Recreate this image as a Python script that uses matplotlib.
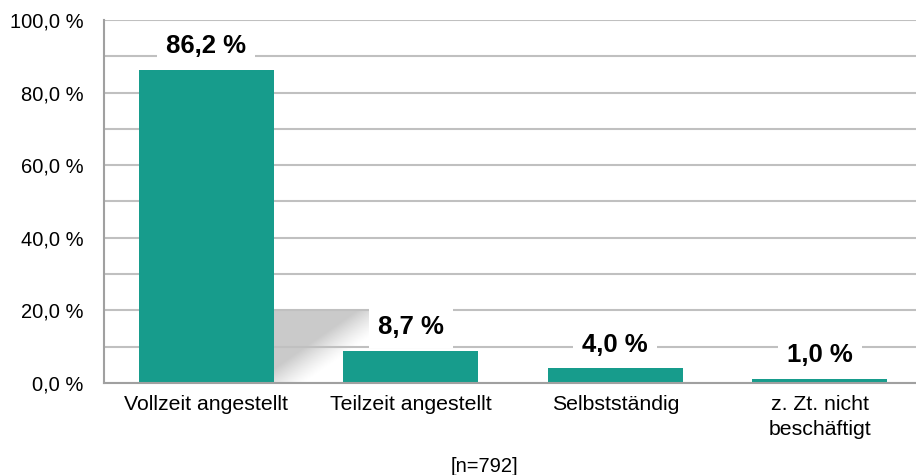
import numpy as np
import matplotlib
matplotlib.use('Agg')
import matplotlib.pyplot as plt
from matplotlib.ticker import MultipleLocator, FuncFormatter

categories = ['Vollzeit angestellt', 'Teilzeit angestellt', 'Selbstständig', 'z. Zt. nicht\nbeschäftigt']
shares = [86.2, 8.7, 4.0, 1.0]
sample_note = '[n=792]'

bar_color = '#179c8c'
grid_color = '#c0c0c0'
spine_color = '#a0a0a0'

plt.rcParams['font.family'] = ['Liberation Sans', 'DejaVu Sans']

fig = plt.figure(figsize=(9.16, 4.75), dpi=100)
ax = fig.add_axes([0.1135, 0.1937, 0.8931, 0.7642])

x = np.arange(len(categories))
ax.bar(x, shares, width=0.66, color=bar_color, zorder=2)

ax.yaxis.set_major_locator(MultipleLocator(20))
ax.yaxis.set_minor_locator(MultipleLocator(10))
pct = FuncFormatter(lambda v, pos: f'{v:.1f} %'.replace('.', ','))
ax.yaxis.set_major_formatter(pct)

ax.set_axisbelow(True)
ax.grid(axis='y', which='both', color=grid_color, linewidth=1.5)
ax.tick_params(axis='y', which='both', length=0, pad=15, labelsize=14.5)
ax.tick_params(axis='x', length=0, pad=9, labelsize=15.3)
ax.set_xticks(x)
ax.set_xticklabels(categories, linespacing=1.35)

for side in ['top', 'right']:
    ax.spines[side].set_visible(False)
for side in ['left', 'bottom']:
    ax.spines[side].set_color(spine_color)
    ax.spines[side].set_linewidth(1.5)

# soft drop shadow falling off the right edge of the first bar
px_x = 204.5   # pixels per category unit
px_y = 3.63    # pixels per percent
sx0, sx1, sy0, sy1 = 0.33, 0.95, 0.0, 19.8
gx = np.linspace(sx0, sx1, 400)
gy = np.linspace(sy0, sy1, 150)
GX, GY = np.meshgrid(gx, gy)
# diagonal edge from the bar foot up to the right, measured in pixels
ex0, ey0, ex1, ey1 = 0.36 * px_x, 0.0, 0.86 * px_x, 19.8 * px_y
dx, dy = ex1 - ex0, ey1 - ey0
norm = np.hypot(dx, dy)
dist = ((GX * px_x - ex0) * dy - (GY * px_y - ey0) * dx) / norm
alpha = np.clip(-dist / 30.0 + 0.5, 0, 1) ** 1.3 * 0.21
shade = np.zeros(GX.shape + (4,))
shade[..., 3] = alpha
ax.imshow(shade, extent=[sx0, sx1, sy0, sy1], origin='lower',
          aspect='auto', interpolation='bilinear', zorder=0.3)
ax.set_xlim(-0.5, len(categories) - 0.5)
ax.set_ylim(0, 100)

for xi, v in zip(x, shares):
    ax.text(xi, v + 6.6, f'{v:.1f} %'.replace('.', ','), ha='center', va='center',
            fontsize=18.5, fontweight='bold', zorder=3,
            bbox=dict(boxstyle='square,pad=0.35', facecolor='white', edgecolor='none'))

fig.text(0.529, 0.018, sample_note, ha='center', va='center', fontsize=14.5)

fig.savefig('out.png', dpi=100)
